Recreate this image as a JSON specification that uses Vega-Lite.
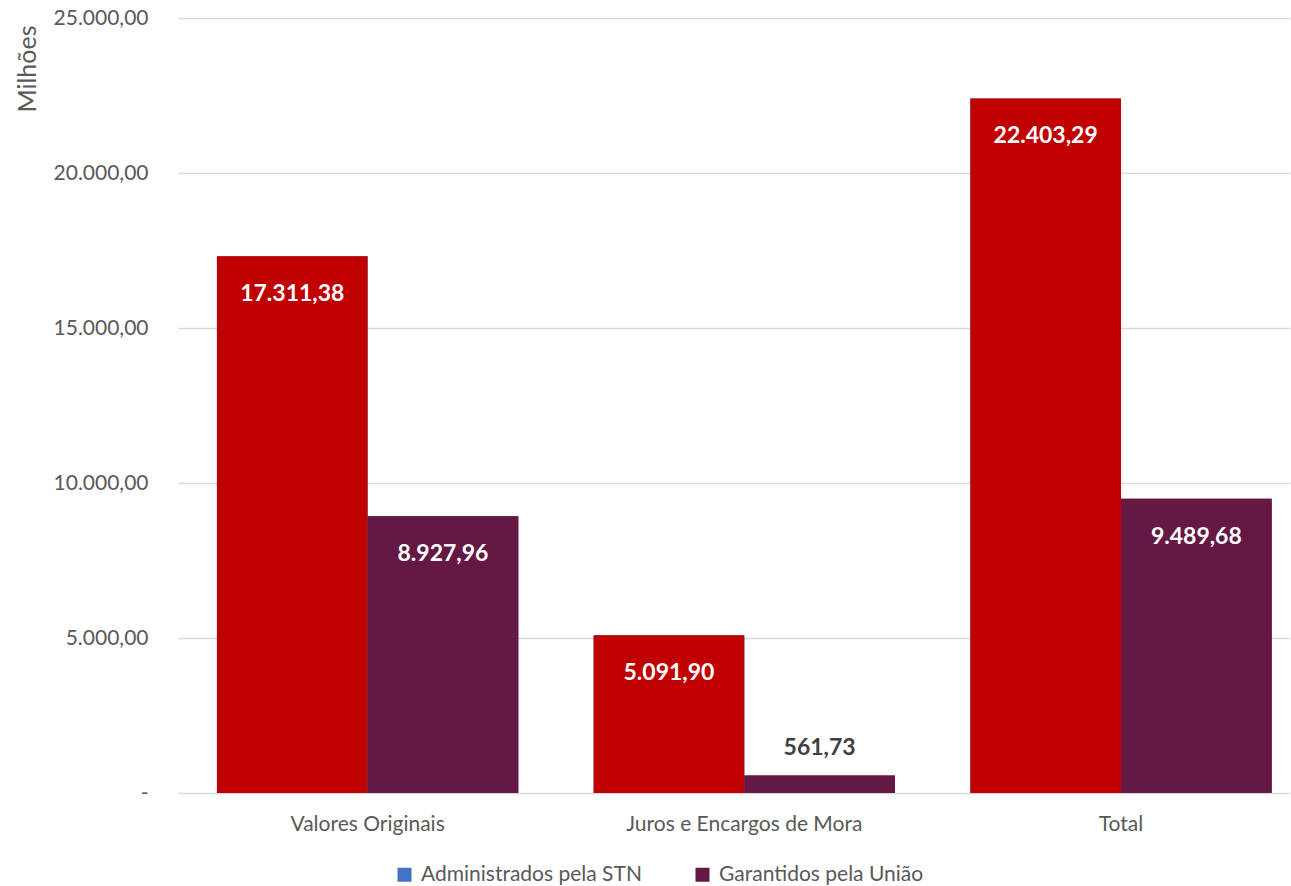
{
  "$schema": "https://vega.github.io/schema/vega-lite/v6.json",
  "width": 1112,
  "height": 775,
  "autosize": {"type": "none"},
  "padding": {"left": 178, "top": 18, "right": 1, "bottom": 93},
  "background": "white",
  "config": {
    "view": {"stroke": null},
    "font": "Lato",
    "locale": {"number": {"decimal": ",", "thousands": ".", "grouping": [3], "currency": ["R$", ""]}}
  },
  "data": {
    "values": [
      {"category": "Valores Originais", "series": "Administrados pela STN", "value": 17311.38},
      {"category": "Valores Originais", "series": "Garantidos pela União", "value": 8927.96},
      {"category": "Juros e Encargos de Mora", "series": "Administrados pela STN", "value": 5091.90},
      {"category": "Juros e Encargos de Mora", "series": "Garantidos pela União", "value": 561.73},
      {"category": "Total", "series": "Administrados pela STN", "value": 22403.29},
      {"category": "Total", "series": "Garantidos pela União", "value": 9489.68}
    ]
  },
  "encoding": {
    "x": {
      "field": "category",
      "type": "nominal",
      "sort": ["Valores Originais", "Juros e Encargos de Mora", "Total"],
      "scale": {"paddingInner": 0.2, "paddingOuter": 0.076, "align": 0.68},
      "axis": {
        "title": null,
        "labelAngle": 0,
        "domain": false,
        "ticks": false,
        "labelFontSize": 21,
        "labelColor": "#595959",
        "labelPadding": 31,
        "labelBaseline": "middle",
        "labelLimit": 0
      }
    },
    "xOffset": {
      "field": "series",
      "type": "nominal",
      "sort": ["Administrados pela STN", "Garantidos pela União"],
      "scale": {"paddingInner": 0, "paddingOuter": 0}
    },
    "y": {
      "field": "value",
      "type": "quantitative",
      "scale": {"domain": [0, 25000], "nice": false},
      "axis": {
        "title": "Milhões",
        "values": [0, 5000, 10000, 15000, 20000, 25000],
        "format": ",.2f",
        "labelExpr": "datum.value == 0 ? '-' : datum.label",
        "domain": false,
        "ticks": false,
        "gridColor": "#d9d9d9",
        "gridWidth": 1.3,
        "labelFontSize": 21,
        "labelColor": "#595959",
        "labelPadding": 30,
        "titleFontSize": 25,
        "titleFontWeight": "normal",
        "titleColor": "#595959",
        "titleAngle": -90,
        "titleAlign": "right",
        "titleBaseline": "top",
        "titleX": -163,
        "titleY": 7
      }
    }
  },
  "layer": [
    {
      "mark": {"type": "bar"},
      "encoding": {
        "fill": {
          "field": "series",
          "type": "nominal",
          "scale": {"domain": ["Administrados pela STN", "Garantidos pela União"], "range": ["#4472c4", "#651844"]},
          "legend": {
            "title": null,
            "orient": "none",
            "direction": "horizontal",
            "legendX": 216,
            "legendY": 846,
            "symbolType": "square",
            "symbolSize": 196,
            "symbolStrokeWidth": 0,
            "labelFontSize": 21,
            "labelColor": "#595959",
            "labelOffset": 6,
            "labelLimit": 0,
            "columnPadding": 50
          }
        }
      }
    },
    {
      "mark": {"type": "bar"},
      "encoding": {
        "color": {
          "field": "series",
          "type": "nominal",
          "scale": {"domain": ["Administrados pela STN", "Garantidos pela União"], "range": ["#c00000", "#651844"]},
          "legend": null
        }
      }
    },
    {
      "transform": [{"filter": "datum.value >= 2000"}],
      "mark": {"type": "text", "color": "white", "fontWeight": "bold", "fontSize": 23, "baseline": "middle", "dy": 38},
      "encoding": {
        "text": {"field": "value", "type": "quantitative", "format": ",.2f"}
      }
    },
    {
      "transform": [{"filter": "datum.value < 2000"}],
      "mark": {"type": "text", "color": "#404040", "fontWeight": "bold", "fontSize": 23, "baseline": "middle", "dy": -28},
      "encoding": {
        "text": {"field": "value", "type": "quantitative", "format": ",.2f"}
      }
    }
  ]
}
